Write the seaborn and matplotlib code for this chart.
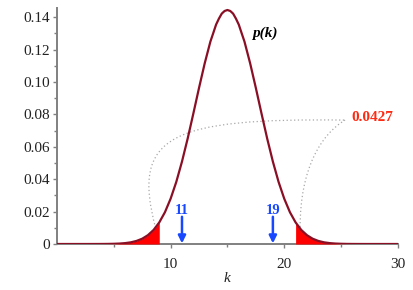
import numpy as np
import pandas as pd
import matplotlib
matplotlib.use("Agg")
import matplotlib.pyplot as plt
from matplotlib.path import Path
from matplotlib.patches import PathPatch
import seaborn as sns

# ---- data ----
k_values = [0, 0.5, 1, 1.5, 2, 2.5, 3, 3.5, 4, 4.5, 5, 5.5, 6, 6.5, 7, 7.5,
            8, 8.5, 9, 9.5, 10, 10.5, 11, 11.5, 12, 12.5, 13, 13.5, 13.75, 14,
            14.25, 14.5, 14.75, 15, 15.25, 15.5, 15.75, 16, 16.25, 16.5, 17,
            17.5, 18, 18.5, 19, 19.5, 20, 20.5, 21, 21.5, 22, 22.5, 23, 23.5,
            24, 24.5, 25, 25.5, 26, 26.5, 27, 27.5, 28, 28.5, 29, 29.5, 30]
p_values = [0.0, 0.0, 0.0, 0.0, 0.0, 0.0, 0.000004, 0.00001, 0.000026, 0.00006,
            0.000133, 0.000276, 0.000553, 0.00104, 0.0019, 0.00327,
            0.00545, 0.00867, 0.01332, 0.01963, 0.02798, 0.03837, 0.05088, 0.06509,
            0.08055, 0.09638, 0.11153, 0.12497, 0.13017, 0.13544,
            0.13914, 0.14223, 0.14386, 0.14446, 0.14386, 0.14223, 0.13914, 0.13544,
            0.13017, 0.12497, 0.11153,
            0.09638, 0.08055, 0.06509, 0.05088, 0.03837, 0.02798, 0.01963, 0.01332,
            0.00867, 0.00545, 0.00327, 0.0019, 0.00104, 0.000553, 0.000276,
            0.000133, 0.00006, 0.000026, 0.00001, 0.000004, 0.0, 0.0, 0.0, 0.0, 0.0, 0.0]
lower_cut = 9
upper_cut = 21
arrow_k = [11, 19]
arrow_labels = ["11", "19"]
tail_prob_label = "0.0427"
x_ticks = [10, 20, 30]
y_ticks = [0, 0.02, 0.04, 0.06, 0.08, 0.10, 0.12, 0.14]
y_tick_labels = ["0", "0.02", "0.04", "0.06", "0.08", "0.10", "0.12", "0.14"]

df = pd.DataFrame({"k": k_values, "p": p_values})

sns.set_theme(style="white")
plt.rcParams["font.family"] = ["Liberation Serif", "DejaVu Serif"]

fig = plt.figure(figsize=(4.14, 2.90), dpi=100)
ax = fig.add_axes([0.1377, 0.1586, 0.8233, 0.8138])

CURVE = "#8A0F25"
RED = "#FF0000"
BLUE = "#1748FF"
GRAY = "#808080"

kk = np.array(k_values)
pp = np.array(p_values)
ax.fill_between(kk, 0, pp, where=kk <= lower_cut, color=RED, lw=0, zorder=2)
ax.fill_between(kk, 0, pp, where=kk >= upper_cut, color=RED, lw=0, zorder=2)
sns.lineplot(data=df, x="k", y="p", ax=ax, color=CURVE, lw=1.6, zorder=3)

ax.set_xlim(0, 30)
ax.set_ylim(0, 0.1457)

ax.set_xticks(x_ticks)
ax.set_xticks([5, 15, 25], minor=True)
ax.set_yticks(y_ticks)
ax.set_yticklabels(y_tick_labels)
ax.set_yticks([0.01, 0.03, 0.05, 0.07, 0.09, 0.11, 0.13], minor=True)
ax.tick_params(axis="both", which="major", direction="out", length=3, width=1,
               color=GRAY, labelsize=11, labelcolor="#222222", pad=2,
               bottom=True, left=True)
ax.tick_params(axis="x", which="major", pad=7)
ax.tick_params(axis="both", which="minor", direction="out", length=2, width=1,
               color=GRAY, bottom=True, left=True)
for s in ["top", "right"]:
    ax.spines[s].set_visible(False)
for s in ["left", "bottom"]:
    ax.spines[s].set_color(GRAY)
    ax.spines[s].set_linewidth(1.4)
ax.spines["bottom"].set_zorder(1)

ax.set_xlabel("k", fontstyle="italic", fontsize=11, labelpad=1, color="#222222")
ax.set_ylabel("")

# curve label
ax.text(17.2, 0.130, "p(k)", fontsize=11, fontweight="bold", fontstyle="italic",
        color="black", ha="left", va="center")

# arrows with labels
for kv, lab in zip(arrow_k, arrow_labels):
    ax.annotate("", xy=(kv, 0.0004), xytext=(kv, 0.0168),
                arrowprops=dict(arrowstyle="-|>", color=BLUE, lw=1.8,
                                mutation_scale=11, shrinkA=0, shrinkB=0))
    ax.text(kv, 0.0183, lab, color=BLUE, fontsize=10.5, fontweight="bold",
            ha="center", va="baseline")

# tail probability label with dotted leader curves
ax.text(25.9, 0.0784, tail_prob_label, color="#FF2A12", fontsize=11,
        fontweight="bold", ha="left", va="center")
leaders = [
    [(8.68, 0.0099), (6.49, 0.0673), (10.0, 0.0778), (25.35, 0.0765)],
    [(21.4, 0.0105), (21.4, 0.0457), (23.16, 0.0673), (25.35, 0.0765)],
]
for pts in leaders:
    path = Path(pts, [Path.MOVETO, Path.CURVE4, Path.CURVE4, Path.CURVE4])
    ax.add_patch(PathPatch(path, fill=False, edgecolor="#A8A8A8", lw=0.9,
                           linestyle=(0, (1, 2)), zorder=1))

fig.savefig("out.png", dpi=100)
